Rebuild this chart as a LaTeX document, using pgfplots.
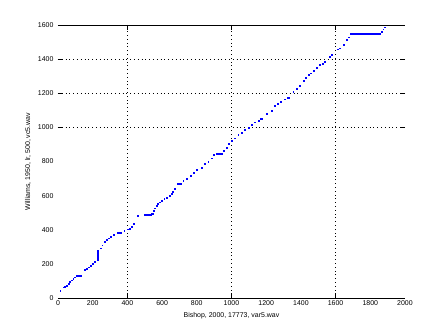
\documentclass[border=0pt]{standalone}
\usepackage{pgfplots}
\pgfplotsset{compat=1.18}
\usepackage{fontspec}
\setmainfont{Liberation Sans}
\begin{document}
\begin{tikzpicture}
\path[use as bounding box] (-58bp,-37bp) rectangle (389bp,298bp);
\begin{axis}[
  at={(0,0)}, anchor=origin,
  scale only axis, width=347bp, height=273bp,
  xmin=0, xmax=2000, ymin=0, ymax=1600,
  separate axis lines,
  y axis line style={draw=none},
  x axis line style={line width=0.8bp},
  xtick={0,200,...,2000}, ytick={0,200,...,1600},
  major tick length=0pt,
  tick align=inside,
  extra x ticks={400,1000,1600},
  extra x tick labels={},
  extra y ticks={1000,1200,1400},
  extra y tick labels={},
  extra tick style={major tick length=5bp, grid=major, tick style={black, line width=0.6bp}},
  grid style={black, line width=0.7bp, dash pattern=on 0.8bp off 3bp},
  every tick label/.append style={font=\fontsize{7}{8}\selectfont},
  /pgf/number format/assume math mode=true,
  /pgf/number format/1000 sep={},
  xticklabel style={yshift=1bp},
  yticklabel style={xshift=-1bp},
  xlabel={Bishop, 2000, 17773, var5.wav},
  ylabel={Williams, 1950, lr, 500, vc5.wav},
  label style={font=\fontsize{7}{8}\selectfont},
  xlabel style={yshift=0bp},
  ylabel style={yshift=0bp},
]
\addplot[only marks, mark=square*, mark size=0.4bp, color={rgb,255:red,0;green,0;blue,255}] coordinates {
(13,43) (31,63) (40,68) (50,74) (60,85) (69,96) (78,104) (88,113) (98,122)
(108,131) (114,131) (120,131) (127,131) (133,131)
(156,164) (165,172) (175,180) (187,190) (198,199) (212,211)
(227,223) (229,235) (229,247) (230,259) (230,270) (231,275)
(244,292) (255,309) (271,330) (280,340) (290,350) (306,360) (323,369)
(342,383) (349,383) (356,383) (363,383)
(382,393) (402,403) (415,408) (426,420) (438,434) (459,481)
(497,490) (503,490) (509,490) (515,490) (521,490) (527,490) (533,490) (540,492) (549,495)
(552,510) (559,526) (567,540) (575,555) (586,562) (598,568) (612,580) (626,590) (646,600)
(655,613) (661,623) (674,639)
(688,672) (694,672) (700,672) (706,672) (709,672)
(722,688) (742,701) (765,715) (784,734) (800,750) (828,766) (847,785) (866,800) (886,819) (899,838)
(915,848) (922,848) (929,848) (936,848) (943,848)
(953,862) (972,883) (986,903) (1001,922) (1020,936) (1039,955) (1058,970) (1078,985) (1097,1000)
(1116,1015) (1136,1030) (1155,1039) (1170,1053) (1176,1053) (1203,1078) (1232,1096) (1247,1127)
(1265,1140) (1284,1151) (1305,1165) (1322,1176) (1333,1176) (1356,1209) (1376,1225) (1395,1243)
(1414,1272) (1428,1290) (1443,1307) (1458,1318) (1472,1330) (1491,1350) (1510,1366) (1524,1375) (1539,1385)
(1564,1415) (1578,1428) (1610,1458) (1625,1464) (1645,1483) (1664,1516) (1674,1528)
(1689,1551) (1695,1551) (1701,1551) (1707,1551) (1713,1551) (1719,1551) (1725,1551) (1731,1551)
(1737,1551) (1743,1551) (1749,1551) (1755,1551) (1761,1551) (1767,1551) (1773,1551) (1779,1551)
(1785,1551) (1791,1551) (1797,1551) (1803,1551) (1809,1551) (1815,1551) (1821,1551) (1827,1551)
(1833,1551) (1839,1551) (1845,1551) (1852,1551)
(1866,1561) (1874,1575) (1881,1587)
};
\end{axis}
\end{tikzpicture}
\end{document}
